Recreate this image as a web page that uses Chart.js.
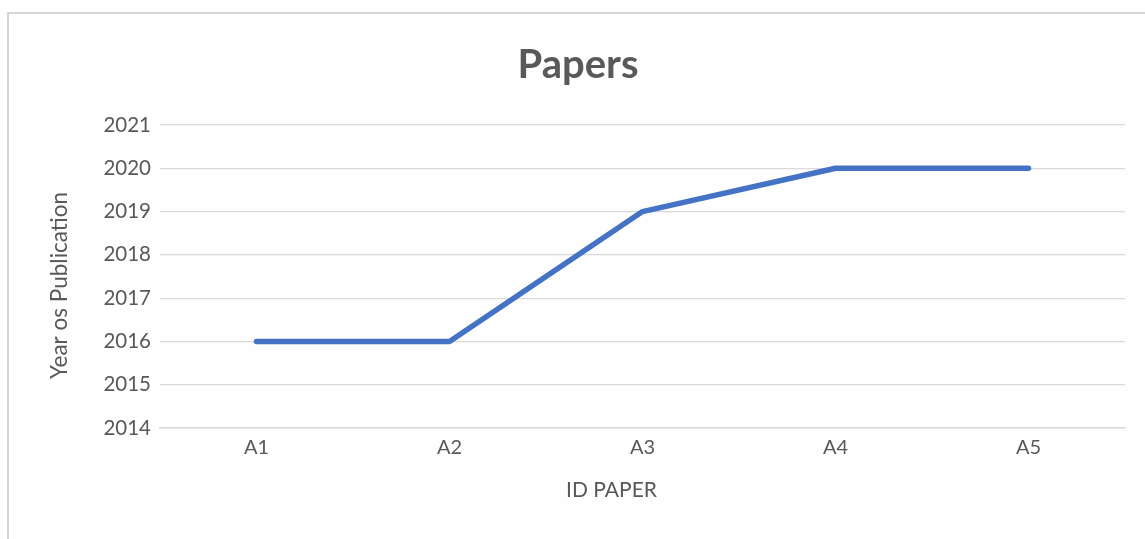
<!DOCTYPE html>
<html>
<head>
<meta charset="utf-8">
<script src="https://cdn.jsdelivr.net/npm/chart.js@4"></script>
<style>
  html, body { margin: 0; padding: 0; background: #ffffff; }
  #wrap { position: relative; width: 1145px; height: 539px; overflow: hidden; background: #fefefe; }
  #frame { position: absolute; left: 7px; top: 12px; width: 1300px; height: 600px;
           border-left: 2px solid #d6d6d6; border-top: 2px solid #d6d6d6; box-sizing: border-box; }
  canvas { position: absolute; left: 0; top: 0; }
</style>
</head>
<body>
<div id="wrap">
  <div id="frame"></div>
  <canvas id="chart" width="1145" height="539"></canvas>
</div>
<script>
// Paper IDs and their publication years
const paperIds = ['A1', 'A2', 'A3', 'A4', 'A5'];
const publicationYears = [2016, 2016, 2019, 2020, 2020];
const yearMin = 2014;
const yearMax = 2021;

const chartTitle = 'Papers';
const xAxisTitle = 'ID PAPER';
const yAxisTitle = 'Year os Publication';

const textGray = '#595959';
const fontFamily = 'Lato, "Open Sans", sans-serif';

// Draws both axis captions next to the plot area
const axisCaptions = {
  id: 'axisCaptions',
  afterDraw(chart) {
    const { ctx, chartArea } = chart;
    const midX = (chartArea.left + chartArea.right) / 2;
    const midY = (chartArea.top + chartArea.bottom) / 2;
    ctx.save();
    ctx.fillStyle = textGray;
    ctx.textAlign = 'center';
    ctx.textBaseline = 'middle';
    ctx.font = '21px ' + fontFamily;
    ctx.fillText(xAxisTitle, midX - 31, chartArea.bottom + 62);
    ctx.translate(chartArea.left - 100, midY + 9);
    ctx.rotate(-Math.PI / 2);
    ctx.font = '22.5px ' + fontFamily;
    ctx.fillText(yAxisTitle, 0, 0);
    ctx.restore();
  }
};

new Chart(document.getElementById('chart'), {
  type: 'line',
  data: {
    labels: paperIds,
    datasets: [{
      data: publicationYears,
      borderColor: '#4472C4',
      borderWidth: 5.5,
      borderCapStyle: 'round',
      borderJoinStyle: 'round',
      pointRadius: 0,
      pointHoverRadius: 0,
      tension: 0,
      fill: false
    }]
  },
  options: {
    responsive: false,
    animation: false,
    layout: { padding: { left: 31, right: 20, top: 0, bottom: 0 } },
    plugins: {
      legend: { display: false },
      tooltip: { enabled: false },
      title: {
        display: true,
        text: chartTitle,
        color: textGray,
        font: { family: fontFamily, size: 40, weight: 'bold', lineHeight: 1.2 },
        padding: { top: 41, bottom: 36 }
      }
    },
    scales: {
      x: {
        offset: true,
        grid: { display: false, drawTicks: false },
        border: { display: true, color: '#d9d9d9', width: 1.5 },
        ticks: { color: textGray, font: { family: fontFamily, size: 20 }, padding: 8 },
        afterFit(scale) { scale.height = 111; }
      },
      y: {
        min: yearMin,
        max: yearMax,
        grid: { color: '#d9d9d9', lineWidth: 1.2, drawTicks: false },
        border: { display: false },
        ticks: {
          stepSize: 1,
          color: textGray,
          font: { family: fontFamily, size: 20.5 },
          padding: 9,
          callback: (value) => String(value)
        },
        afterFit(scale) { scale.width = 129; }
      }
    }
  },
  plugins: [axisCaptions]
});
</script>
</body>
</html>
